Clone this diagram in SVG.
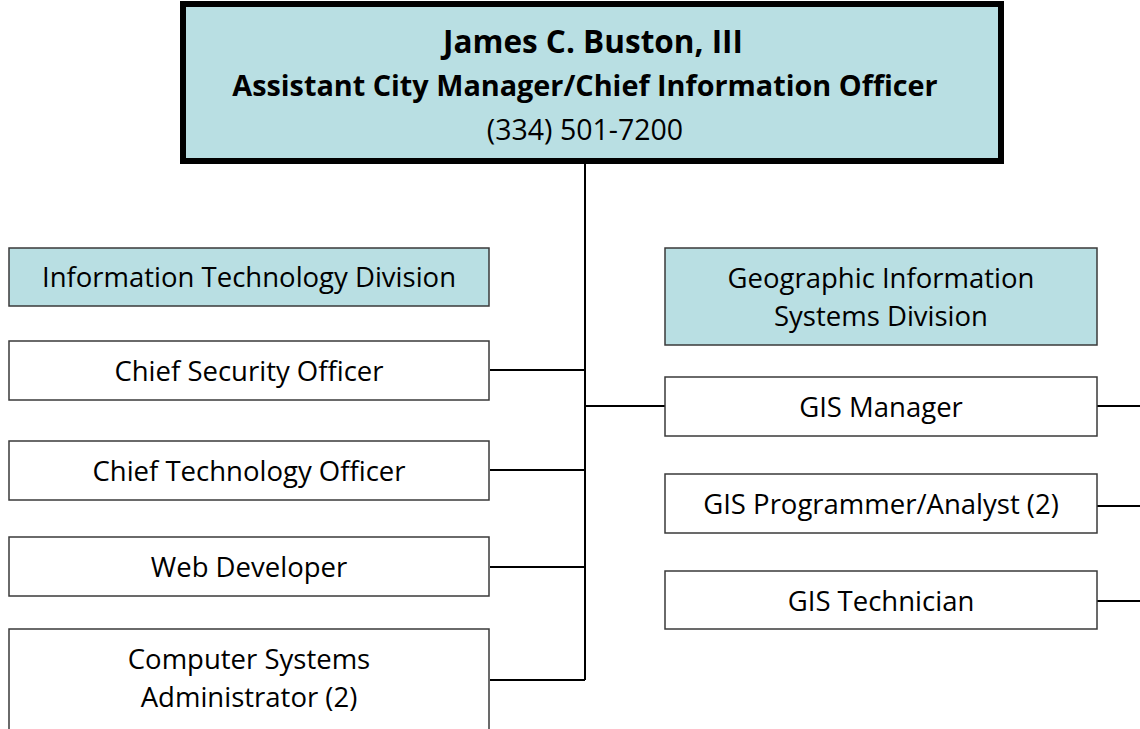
<svg xmlns="http://www.w3.org/2000/svg" width="1140" height="729" viewBox="0 0 1140 729">
<style>
text{font-family:"Open Sans","Liberation Sans",sans-serif;fill:#000;text-anchor:middle}
.b{fill:#fff;stroke:#3a3a3a;stroke-width:1.5}
.t{fill:#b9dfe3;stroke:#3a3a3a;stroke-width:1.5}
.n{font-size:27.5px}
.c{stroke:#000;stroke-width:2;fill:none}
</style>
<rect width="1140" height="729" fill="#fff"/>
<g id="connectors">
<path class="c" d="M585 163V680M490 370H585M490 470H585M490 567H585M490 680H585M585 406H665M1097 406H1140M1097 506H1140M1097 601H1140"/>
</g>
<g id="top">
<rect x="183" y="4" width="818" height="157" fill="#b9dfe3" stroke="#000" stroke-width="6"/>
<text x="593" y="53" font-size="31.5" font-weight="bold">James C. Buston, III</text>
<text x="585" y="96" font-size="28.8" font-weight="bold">Assistant City Manager/Chief Information Officer</text>
<text x="585" y="140" font-size="28.5">(334) 501-7200</text>
</g>
<g id="itdiv"><rect class="t" x="9" y="248" width="480" height="58"/><text class="n" x="249" y="287">Information Technology Division</text></g>
<g id="cso"><rect class="b" x="9" y="341" width="480" height="59"/><text class="n" x="249" y="381">Chief Security Officer</text></g>
<g id="cto"><rect class="b" x="9" y="441" width="480" height="59"/><text class="n" x="249" y="481">Chief Technology Officer</text></g>
<g id="web"><rect class="b" x="9" y="537" width="480" height="59"/><text class="n" x="249" y="577">Web Developer</text></g>
<g id="csa"><rect class="b" x="9" y="629" width="480" height="110"/><text class="n" x="249" y="669">Computer Systems</text><text class="n" x="249" y="707">Administrator (2)</text></g>
<g id="gisdiv"><rect class="t" x="665" y="248" width="432" height="97"/><text class="n" x="881" y="288">Geographic Information</text><text class="n" x="881" y="326">Systems Division</text></g>
<g id="gism"><rect class="b" x="665" y="377" width="432" height="59"/><text class="n" x="881" y="417">GIS Manager</text></g>
<g id="gisp"><rect class="b" x="665" y="474" width="432" height="59"/><text class="n" x="881" y="514">GIS Programmer/Analyst (2)</text></g>
<g id="gist"><rect class="b" x="665" y="571" width="432" height="58"/><text class="n" x="881" y="611">GIS Technician</text></g>
</svg>
